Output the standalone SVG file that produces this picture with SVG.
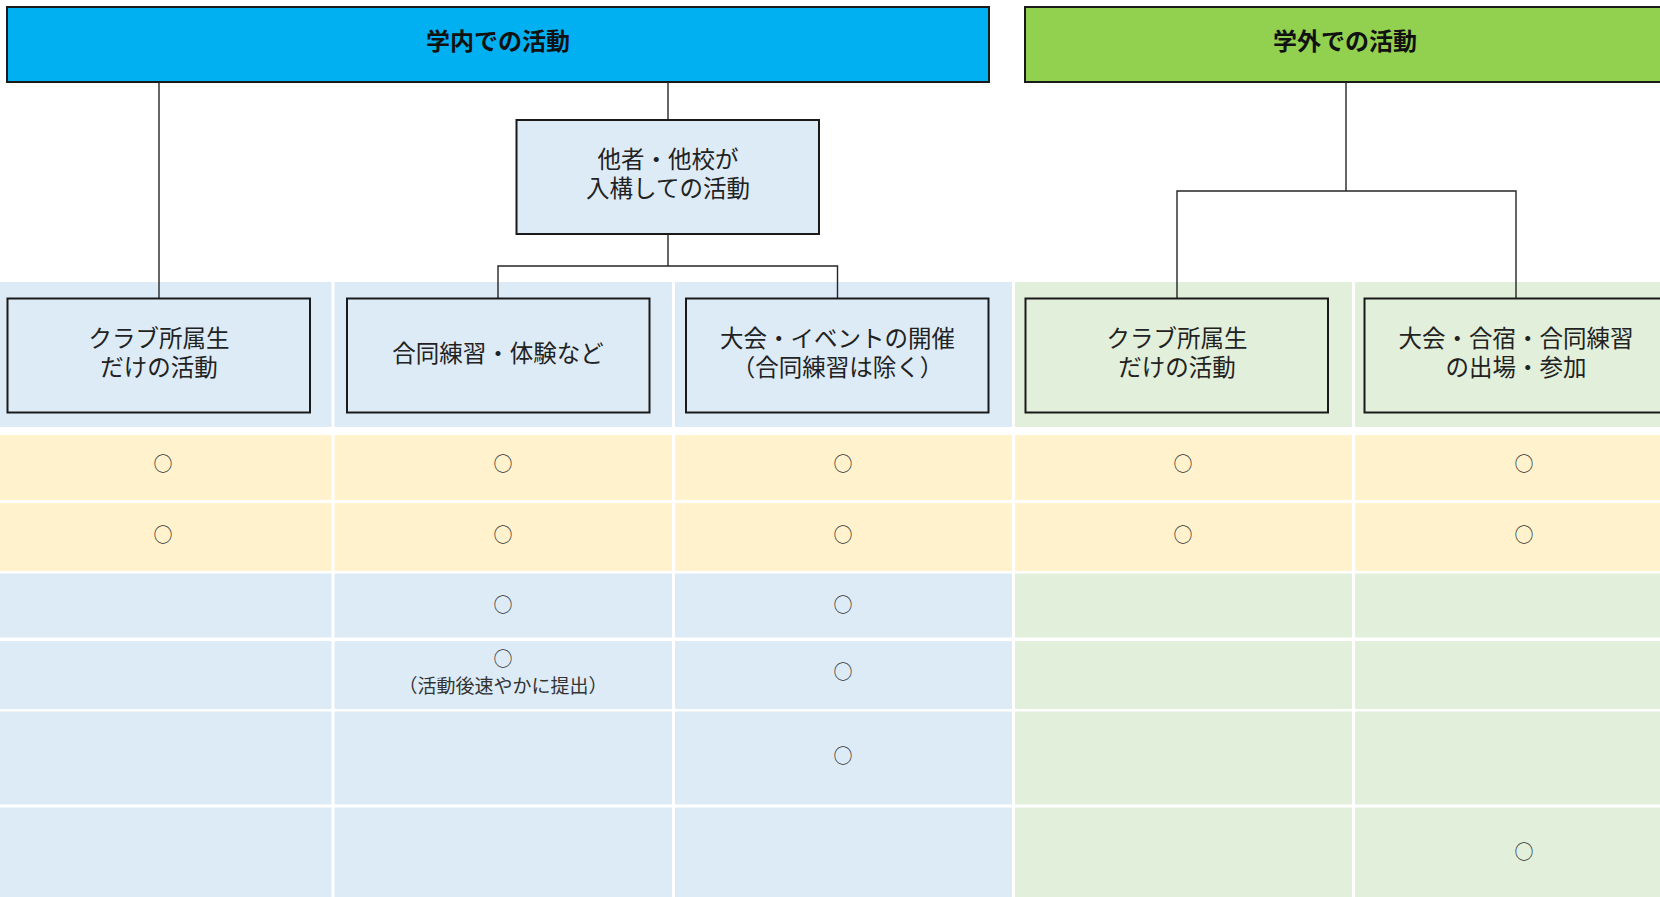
<svg xmlns="http://www.w3.org/2000/svg" width="1660" height="897" viewBox="0 0 1660 897">
<style>
.t{font-family:"Noto Sans CJK JP","Noto Sans",sans-serif;fill:#222;text-anchor:middle}
.h{font-size:24px;font-weight:bold;fill:#111}
.n{font-size:23.5px}
.m{font-size:19px;fill:#333}
.box{stroke:#1a1a1a;stroke-width:2}
.bl{fill:#DDEBF7}.gr{fill:#E2EFDA}.ye{fill:#FFF2CC}
.con{fill:none;stroke:#262626;stroke-width:1.4}
</style>
<rect width="1660" height="897" fill="#fff"/>
<g id="table">
<rect class="bl" x="0" y="282" width="331.5" height="145"/>
<rect class="bl" x="334.5" y="282" width="337.5" height="145"/>
<rect class="bl" x="675" y="282" width="337" height="145"/>
<rect class="gr" x="1015" y="282" width="337" height="145"/>
<rect class="gr" x="1355" y="282" width="305" height="145"/>
<rect class="ye" x="0" y="435" width="331.5" height="65"/>
<rect class="ye" x="334.5" y="435" width="337.5" height="65"/>
<rect class="ye" x="675" y="435" width="337" height="65"/>
<rect class="ye" x="1015" y="435" width="337" height="65"/>
<rect class="ye" x="1355" y="435" width="305" height="65"/>
<rect class="ye" x="0" y="503" width="331.5" height="68"/>
<rect class="ye" x="334.5" y="503" width="337.5" height="68"/>
<rect class="ye" x="675" y="503" width="337" height="68"/>
<rect class="ye" x="1015" y="503" width="337" height="68"/>
<rect class="ye" x="1355" y="503" width="305" height="68"/>
<rect class="bl" x="0" y="573.5" width="331.5" height="64"/>
<rect class="bl" x="334.5" y="573.5" width="337.5" height="64"/>
<rect class="bl" x="675" y="573.5" width="337" height="64"/>
<rect class="gr" x="1015" y="573.5" width="337" height="64"/>
<rect class="gr" x="1355" y="573.5" width="305" height="64"/>
<rect class="bl" x="0" y="641" width="331.5" height="68"/>
<rect class="bl" x="334.5" y="641" width="337.5" height="68"/>
<rect class="bl" x="675" y="641" width="337" height="68"/>
<rect class="gr" x="1015" y="641" width="337" height="68"/>
<rect class="gr" x="1355" y="641" width="305" height="68"/>
<rect class="bl" x="0" y="711.5" width="331.5" height="93"/>
<rect class="bl" x="334.5" y="711.5" width="337.5" height="93"/>
<rect class="bl" x="675" y="711.5" width="337" height="93"/>
<rect class="gr" x="1015" y="711.5" width="337" height="93"/>
<rect class="gr" x="1355" y="711.5" width="305" height="93"/>
<rect class="bl" x="0" y="807.5" width="331.5" height="90"/>
<rect class="bl" x="334.5" y="807.5" width="337.5" height="90"/>
<rect class="bl" x="675" y="807.5" width="337" height="90"/>
<rect class="gr" x="1015" y="807.5" width="337" height="90"/>
<rect class="gr" x="1355" y="807.5" width="305" height="90"/>
</g>
<g id="marks" class="t m">
<text x="163" y="471">○</text>
<text x="503" y="471">○</text>
<text x="843" y="471">○</text>
<text x="1183" y="471">○</text>
<text x="1524" y="471">○</text>
<text x="163" y="542">○</text>
<text x="503" y="542">○</text>
<text x="843" y="542">○</text>
<text x="1183" y="542">○</text>
<text x="1524" y="542">○</text>
<text x="503" y="612">○</text>
<text x="843" y="612">○</text>
<text x="503" y="666">○<tspan x="503" dy="27">（活動後速やかに提出）</tspan></text>
<text x="843" y="679">○</text>
<text x="843" y="763">○</text>
<text x="1524" y="859">○</text>
</g>
<g id="connectors" class="con">
<path d="M159 82V298"/>
<path d="M668 82V120"/>
<path d="M668 234V266M498 298V266H837.5V298"/>
<path d="M1346 82V191M1177 298V191H1516V298"/>
</g>
<g id="inside">
<rect class="box" x="7" y="7" width="982" height="75" fill="#00B0F0"/>
<text class="t h" x="498" y="50">学内での活動</text>
</g>
<g id="outside">
<rect class="box" x="1025" y="7" width="645" height="75" fill="#92D050"/>
<text class="t h" x="1345" y="50">学外での活動</text>
</g>
<g id="others">
<rect class="box bl" x="516.5" y="120" width="302.5" height="114"/>
<text class="t n" x="668" y="168">他者・他校が<tspan x="668" dy="29">入構しての活動</tspan></text>
</g>
<g id="in-club">
<rect class="box bl" x="7.5" y="298.5" width="302.5" height="114"/>
<text class="t n" x="159" y="347">クラブ所属生<tspan x="159" dy="29">だけの活動</tspan></text>
</g>
<g id="joint">
<rect class="box bl" x="347" y="298.5" width="302.5" height="114"/>
<text class="t n" x="498" y="362">合同練習・体験など</text>
</g>
<g id="event">
<rect class="box bl" x="686" y="298.5" width="302.5" height="114"/>
<text class="t n" x="837.5" y="347">大会・イベントの開催<tspan x="837.5" dy="29">（合同練習は除く）</tspan></text>
</g>
<g id="out-club">
<rect class="box gr" x="1025.5" y="298.5" width="302.5" height="114"/>
<text class="t n" x="1177" y="347">クラブ所属生<tspan x="1177" dy="29">だけの活動</tspan></text>
</g>
<g id="out-event">
<rect class="box gr" x="1364.5" y="298.5" width="302.5" height="114"/>
<text class="t n" x="1516" y="347">大会・合宿・合同練習<tspan x="1516" dy="29">の出場・参加</tspan></text>
</g>
</svg>
